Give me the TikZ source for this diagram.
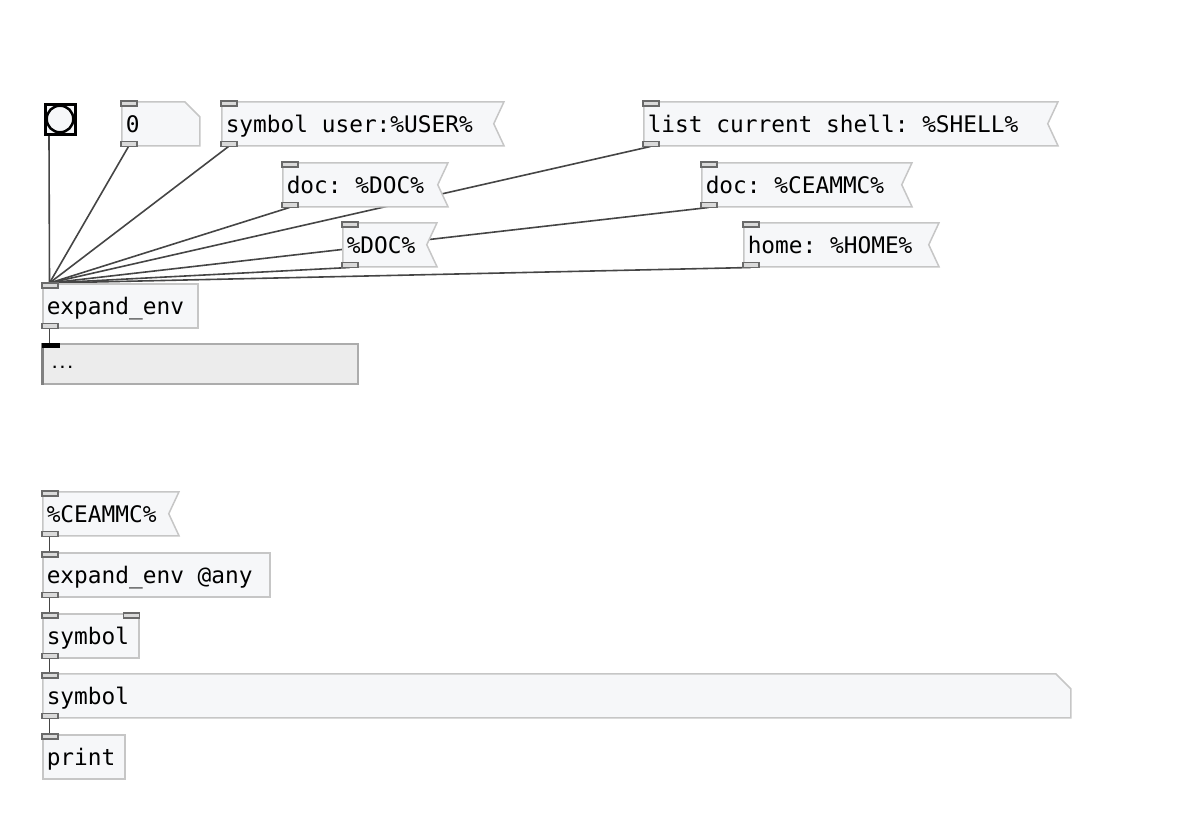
\documentclass[tikz,border=0pt]{standalone}
\usepackage{fontspec}
\setmonofont{DejaVu Sans Mono}
\usetikzlibrary{shapes.misc,shapes.symbols,backgrounds}
\definecolor{pdfill}{HTML}{F6F7F9}
\definecolor{pdline}{HTML}{C6C6C6}
\definecolor{pdwire}{HTML}{454545}
\definecolor{pdport}{HTML}{6A6A6A}
\definecolor{pdlist}{HTML}{ECECEC}
\tikzset{
	pdobj/.style={
			draw=pdline, fill=pdfill, line width=1.5pt, anchor=north west,
			minimum height=44pt, inner xsep=4pt, inner ysep=0pt,
			text height=20pt, text depth=2pt,
			font={\fontsize{22.8}{27}\ttfamily\frenchspacing\spaceskip=0.602em\xspaceskip=0.602em\relax},
			execute at begin node={\hbox to #1\bgroup},
			execute at end node={\hfil\egroup}
		},
	pdmsg/.style={pdobj=#1, signal, signal to=nowhere, signal from=east, signal pointer angle=130},
	pdatom/.style={pdobj=#1, chamfered rectangle, chamfered rectangle corners=north east,
			chamfered rectangle xsep=5.5pt, chamfered rectangle ysep=9.5pt, inner xsep=-1.5pt},
	port/.style={draw=pdport, fill=pdport!25, line width=1.2pt},
	wire/.style={draw=pdwire, line width=1.6pt}
}

\begin{document}
\begin{tikzpicture}[x=1pt, y=-1pt]
		\useasboundingbox (0,0) rectangle (1196,838);

		\node [draw=black, fill=pdfill, line width=3pt, minimum size=30pt, inner sep=0pt, anchor=north west] (bng) at (43.5,102.5) {};
		\draw [black, line width=2.5pt]	(bng.center) circle (13.3pt);

		\node [pdatom=70pt]		(num)		at (121,101) {0};
		\node [pdmsg=264pt]		(msguser)	at (221,101) {symbol user:\%USER\%};
		\node [pdmsg=396pt]		(msgshell)	at (643,101) {list current shell: \%SHELL\%};
		\node [pdmsg=147pt]		(msgdoc)	at (282,162) {doc: \%DOC\%};
		\node [pdmsg=192pt]		(msgceammc)	at (701,162) {doc: \%CEAMMC\%};
		\node [pdmsg=76pt]		(msgdocvar)	at (342,222) {\%DOC\%};
		\node [pdmsg=177pt]		(msghome)	at (743,222) {home: \%HOME\%};
		\node [pdobj=147pt]		(expand)	at (42,283) {expand\_env};
		\node [draw=gray!65, fill=pdlist, line width=1.5pt, anchor=north west, minimum height=40pt,
			inner xsep=8pt, inner ysep=0pt, text height=10pt, text depth=0pt, text width=299pt,
			font={\fontsize{13}{15}\ttfamily\bfseries}] (lst) at (42,343) {...};
		\draw [gray, line width=3pt]	(lst.north west) to (lst.south west);

		\node [pdmsg=118pt]		(ceammc)	at (42,491) {\%CEAMMC\%};
		\node [pdobj=219pt]		(expandany)	at (42,552) {expand\_env @any};
		\node [pdobj=88pt]		(symin)		at (42,613) {symbol};
		\node [pdatom=1020pt]	(symout)	at (42,673) {symbol};
		\node [pdobj=74pt]		(print)		at (42,734) {print};

		\filldraw [port]	(num.north west) rectangle ++(16,5)
							(num.south west) rectangle ++(16,-5)
							(msguser.north west) rectangle ++(16,5)
							(msguser.south west) rectangle ++(16,-5)
							(msgshell.north west) rectangle ++(16,5)
							(msgshell.south west) rectangle ++(16,-5)
							(msgdoc.north west) rectangle ++(16,5)
							(msgdoc.south west) rectangle ++(16,-5)
							(msgceammc.north west) rectangle ++(16,5)
							(msgceammc.south west) rectangle ++(16,-5)
							(msgdocvar.north west) rectangle ++(16,5)
							(msgdocvar.south west) rectangle ++(16,-5)
							(msghome.north west) rectangle ++(16,5)
							(msghome.south west) rectangle ++(16,-5)
							(expand.north west) rectangle ++(16,5)
							(expand.south west) rectangle ++(16,-5)
							(ceammc.north west) rectangle ++(16,5)
							(ceammc.south west) rectangle ++(16,-5)
							(expandany.north west) rectangle ++(16,5)
							(expandany.south west) rectangle ++(16,-5)
							(symin.north west) rectangle ++(16,5)
							(symin.north east) rectangle ++(-16,5)
							(symin.south west) rectangle ++(16,-5)
							(symout.north west) rectangle ++(16,5)
							(symout.south west) rectangle ++(16,-5)
							(print.north west) rectangle ++(16,5);
		\fill [black]	(lst.north west) rectangle ++(18,5);

		\begin{scope}[on background layer]
			\draw [wire]	([xshift=5.5pt]bng.south west) to ([xshift=7.5pt]expand.north west);
			\draw [wire]	([xshift=7.5pt]num.south west) to ([xshift=7.5pt]expand.north west);
			\draw [wire]	([xshift=7.5pt]msguser.south west) to ([xshift=7.5pt]expand.north west);
			\draw [wire]	([xshift=7.5pt]msgshell.south west) to ([xshift=7.5pt]expand.north west);
			\draw [wire]	([xshift=7.5pt]msgdoc.south west) to ([xshift=7.5pt]expand.north west);
			\draw [wire]	([xshift=7.5pt]msgceammc.south west) to ([xshift=7.5pt]expand.north west);
			\draw [wire]	([xshift=7.5pt]msgdocvar.south west) to ([xshift=7.5pt]expand.north west);
			\draw [wire]	([xshift=7.5pt]msghome.south west) to ([xshift=7.5pt]expand.north west);
			\draw [wire]	([xshift=7.5pt]expand.south west) to ([xshift=7.5pt]lst.north west);

			\draw [wire]	([xshift=7.5pt]ceammc.south west) to ([xshift=7.5pt]expandany.north west);
			\draw [wire]	([xshift=7.5pt]expandany.south west) to ([xshift=7.5pt]symin.north west);
			\draw [wire]	([xshift=7.5pt]symin.south west) to ([xshift=7.5pt]symout.north west);
			\draw [wire]	([xshift=7.5pt]symout.south west) to ([xshift=7.5pt]print.north west);
		\end{scope}
	\end{tikzpicture}
\end{document}
